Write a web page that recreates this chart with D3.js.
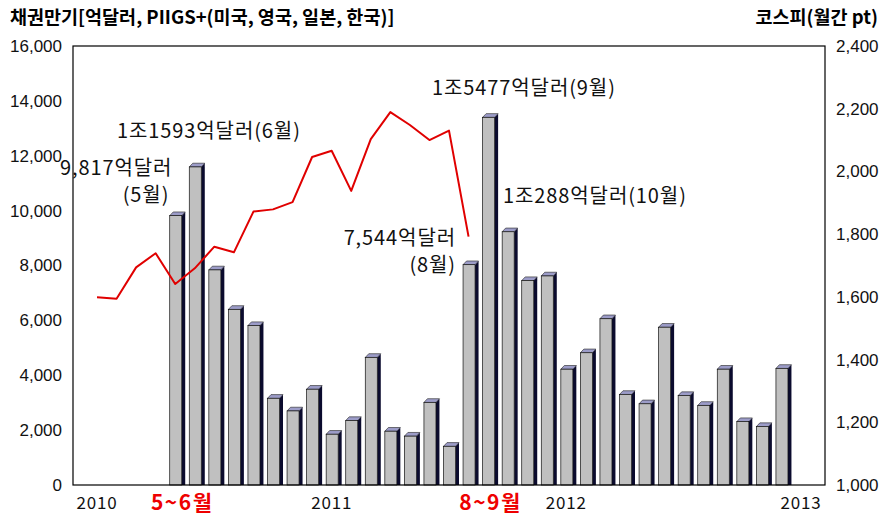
<!DOCTYPE html>
<html>
<head>
<meta charset="utf-8">
<script src="https://cdn.jsdelivr.net/npm/d3@7"></script>
<style>
  body { margin: 0; background: white; }
  svg { font-family: "Noto Sans CJK KR", "Noto Sans", sans-serif; }
</style>
</head>
<body>
<div id="chart_area"></div>
<script>

// Bond maturities (억달러), May 2010 - Dec 2012
var bondMonths = ["2010-05","2010-06","2010-07","2010-08","2010-09","2010-10","2010-11","2010-12",
                  "2011-01","2011-02","2011-03","2011-04","2011-05","2011-06","2011-07","2011-08",
                  "2011-09","2011-10","2011-11","2011-12","2012-01","2012-02","2012-03","2012-04",
                  "2012-05","2012-06","2012-07","2012-08","2012-09","2012-10","2012-11","2012-12"];
var bondValues = [9817, 11593, 7840, 6400, 5810, 3160, 2700, 3490,
                  1850, 2350, 4650, 1960, 1780, 3010, 1410, 8030,
                  13400, 9230, 7450, 7620, 4220, 4820, 6060, 3300,
                  2960, 5750, 3260, 2900, 4220, 2310, 2130, 4250];

// KOSPI monthly (pt), Jan 2010 - Aug 2011
var kospiMonths = ["2010-01","2010-02","2010-03","2010-04","2010-05","2010-06","2010-07","2010-08",
                   "2010-09","2010-10","2010-11","2010-12","2011-01","2011-02","2011-03","2011-04",
                   "2011-05","2011-06","2011-07","2011-08"];
var kospiValues = [1599, 1594, 1694, 1739, 1641, 1691, 1760, 1742,
                   1872, 1879, 1902, 2046, 2066, 1938, 2103, 2189,
                   2148, 2100, 2130, 1792];

// Axis ticks and labels
var leftTicks = [0, 2000, 4000, 6000, 8000, 10000, 12000, 14000, 16000];
var rightTicks = [1000, 1200, 1400, 1600, 1800, 2000, 2200, 2400];
var yearMonths = ["2010-01", "2011-01", "2012-01", "2013-01"];
var yearTexts = ["2010", "2011", "2012", "2013"];
var periodMonths = ["2010-05", "2011-08"];
var periodTexts = ["5~6월", "8~9월"];

// Annotations
var noteTexts = ["9,817억달러", "(5월)", "1조1593억달러(6월)", "1조5477억달러(9월)",
                 "1조288억달러(10월)", "7,544억달러", "(8월)"];

var svgW = 887, svgH = 517;
var margin = {left: 73, right: 62, top: 46, bottom: 32};
var plotW = svgW - margin.left - margin.right;
var plotH = svgH - margin.top - margin.bottom;

// month index from "YYYY-MM"
function monthIndex(m) {
  var p = m.split("-");
  return (+p[0] - 2010) * 12 + (+p[1] - 1);
}

var xScale = d3.scaleLinear().domain([0, 36]).range([24, plotW - 24]);
var yLeft = d3.scaleLinear().domain([0, 16000]).range([plotH, 0]);
var yRight = d3.scaleLinear().domain([1000, 2400]).range([plotH, 0]);

var svg = d3.select("#chart_area").append("svg")
  .attr("width", svgW).attr("height", svgH);

var g = svg.append("g")
  .attr("transform", "translate(" + margin.left + "," + margin.top + ")");

// Bars (pseudo 3D)
var barW = 12, depthX = 3.5, depthY = 3.7, barShift = -5.5;
var bars = g.selectAll(".bar")
  .data(bondMonths.map(function(m, i) { return {month: m, value: bondValues[i]}; }))
  .enter().append("g").attr("class", "bar");

bars.append("path")
  .attr("fill", "#0b0b2e")
  .attr("d", function(d) {
    var x1 = xScale(monthIndex(d.month)) + barShift + barW;
    var yt = yLeft(d.value);
    return "M" + x1 + "," + yt + "L" + (x1 + depthX) + "," + (yt - depthY) +
           "L" + (x1 + depthX) + "," + plotH + "L" + x1 + "," + plotH + "Z";
  });

bars.append("path")
  .attr("fill", "#9c9cc8")
  .attr("stroke", "#222")
  .attr("stroke-width", 0.6)
  .attr("d", function(d) {
    var x0 = xScale(monthIndex(d.month)) + barShift;
    var yt = yLeft(d.value);
    return "M" + x0 + "," + yt + "L" + (x0 + depthX) + "," + (yt - depthY) +
           "L" + (x0 + barW + depthX) + "," + (yt - depthY) + "L" + (x0 + barW) + "," + yt + "Z";
  });

bars.append("rect")
  .attr("x", function(d) { return xScale(monthIndex(d.month)) + barShift; })
  .attr("y", function(d) { return yLeft(d.value); })
  .attr("width", barW)
  .attr("height", function(d) { return plotH - yLeft(d.value); })
  .attr("fill", "#c0c0c0")
  .attr("stroke", "#111")
  .attr("stroke-width", 0.7);

// KOSPI line
var line = d3.line()
  .x(function(d, i) { return xScale(monthIndex(kospiMonths[i])); })
  .y(function(d) { return yRight(d); });

g.append("path")
  .datum(kospiValues)
  .attr("fill", "none")
  .attr("stroke", "#e00000")
  .attr("stroke-width", 2)
  .attr("stroke-linejoin", "round")
  .attr("d", line);

// Frame
g.append("rect")
  .attr("x", 0).attr("y", 0)
  .attr("width", plotW).attr("height", plotH)
  .attr("fill", "none")
  .attr("stroke", "black")
  .attr("stroke-width", 1.2);

// Left axis
var leftAxis = d3.axisLeft(yLeft).tickValues(leftTicks).tickSize(0).tickPadding(11)
  .tickFormat(d3.format(","));
var gl = g.append("g").call(leftAxis);
gl.select(".domain").remove();
gl.selectAll("text").style("font-size", "17px").attr("fill", "#111");

// Right axis
var rightAxis = d3.axisRight(yRight).tickValues(rightTicks).tickSize(0).tickPadding(11)
  .tickFormat(d3.format(","));
var gr = g.append("g").attr("transform", "translate(" + plotW + ",0)").call(rightAxis);
gr.select(".domain").remove();
gr.selectAll("text").style("font-size", "17px").attr("fill", "#111");

// Year labels
g.selectAll(".year")
  .data(yearMonths).enter().append("text")
  .attr("x", function(d) { return xScale(monthIndex(d)); })
  .attr("y", plotH + 24)
  .attr("text-anchor", "middle")
  .style("font-size", "17px")
  .style("letter-spacing", "0.8px")
  .attr("fill", "#111")
  .text(function(d, i) { return yearTexts[i]; });

// Period labels (red), offset right of the first month of each period
var periodShift = [7, 22];
g.selectAll(".period")
  .data(periodMonths).enter().append("text")
  .attr("x", function(d, i) { return xScale(monthIndex(d)) + periodShift[i]; })
  .attr("y", plotH + 25)
  .attr("text-anchor", "middle")
  .style("font-size", "21px")
  .style("font-weight", "bold")
  .style("letter-spacing", "1.5px")
  .attr("fill", "#ee0000")
  .text(function(d, i) { return periodTexts[i]; });

// Annotation placement
var notePos = [
  {x: 60, y: 175, anchor: "start"},
  {x: 146, y: 202, anchor: "middle"},
  {x: 117, y: 138, anchor: "start"},
  {x: 432, y: 95, anchor: "start"},
  {x: 503, y: 203, anchor: "start"},
  {x: 456, y: 245, anchor: "end"},
  {x: 456, y: 272, anchor: "end"}
];
svg.selectAll(".note")
  .data(noteTexts).enter().append("text")
  .attr("x", function(d, i) { return notePos[i].x; })
  .attr("y", function(d, i) { return notePos[i].y; })
  .attr("text-anchor", function(d, i) { return notePos[i].anchor; })
  .style("font-size", "20px")
  .style("letter-spacing", "0.9px")
  .attr("fill", "#111")
  .text(function(d) { return d; });

// Titles
svg.append("text")
  .attr("x", 10).attr("y", 24)
  .style("font-size", "18.5px").style("font-weight", "bold")
  .text("채권만기[억달러, PIIGS+(미국, 영국, 일본, 한국)]");

svg.append("text")
  .attr("x", 878).attr("y", 24)
  .attr("text-anchor", "end")
  .style("font-size", "18.5px").style("font-weight", "bold")
  .text("코스피(월간 pt)");

</script>
</body>
</html>
